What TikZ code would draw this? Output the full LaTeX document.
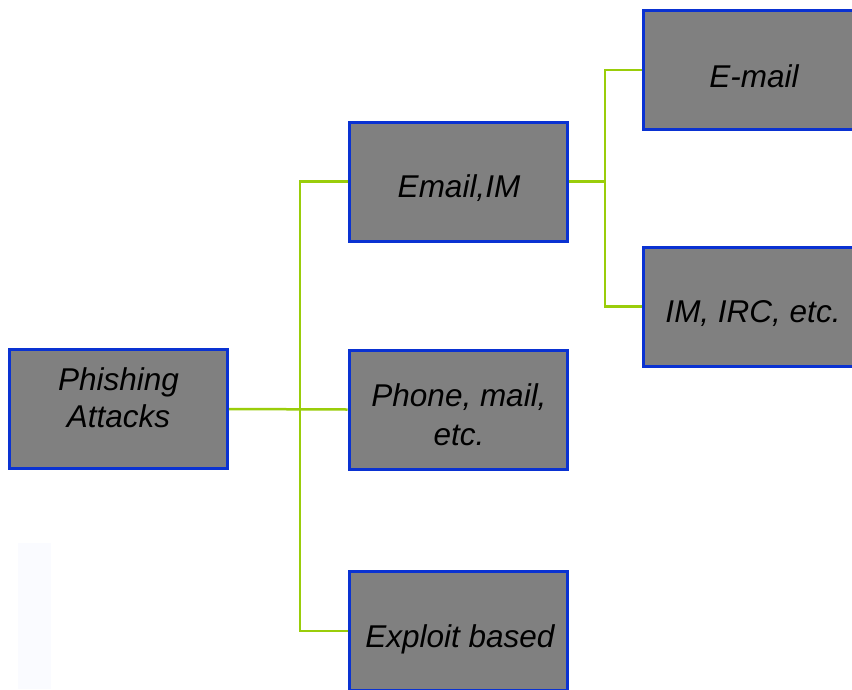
\documentclass[tikz,border=0pt]{standalone}
\usepackage{fontspec}
\setmainfont{Liberation Sans}
\begin{document}
\begin{tikzpicture}[x=1pt,y=-1pt,
  box/.style={draw=boxblue,fill=boxgray,line width=3pt,minimum width=218pt,
    minimum height=119pt,inner sep=0pt},
  lbl/.style={anchor=base,inner sep=0pt,
    font=\fontsize{31.5}{38}\selectfont\itshape},
  link/.style={draw=linkgreen,line width=2.5pt}]
\definecolor{boxblue}{HTML}{0A32D2}
\definecolor{boxgray}{HTML}{808080}
\definecolor{linkgreen}{HTML}{9ACD0A}
\definecolor{haze}{HTML}{FAFBFF}
\useasboundingbox (0,0) rectangle (852,689);
\clip (0,0) rectangle (852,689);
\fill[haze] (18,543) rectangle (51,689);
% tree boxes
\node[box] (root)    at (118.5,409) {};
\node[box] (emailim) at (458,181.5) {};
\node[box] (phone)   at (458,409.5) {};
\node[box] (exploit) at (458,631)   {};
\node[box] (email)   at (752,70)    {};
\node[box] (irc)     at (752,306.5) {};
% box captions, placed on their baselines
\node[lbl] (rootA)    at (118.5,390) {Phishing};
\node[lbl] (rootB)    at (118.5,427) {Attacks};
\node[lbl] (emailimT) at (459,197)   {Email,IM};
\node[lbl] (phoneA)   at (459,406)   {Phone, mail,};
\node[lbl] (phoneB)   at (459,445)   {etc.};
\node[lbl] (exploitT) at (460,647)   {Exploit based};
\node[lbl] (emailT)   at (754,87)    {E-mail};
\node[lbl] (ircT)     at (753,322)   {IM, IRC, etc.};
% junction points of the elbow connectors
\coordinate (j1) at (300,409.5);
\coordinate (j2) at (605,181.5);
\draw[link] (root.east) -- (phone.west);
\draw[link] (j1) |- (emailim.west);
\draw[link] (j1) |- (exploit.west);
\draw[link] (emailim.east) -- (j2);
\draw[link] (j2) |- (email.west);
\draw[link] (j2) |- (irc.west);
\end{tikzpicture}
\end{document}
